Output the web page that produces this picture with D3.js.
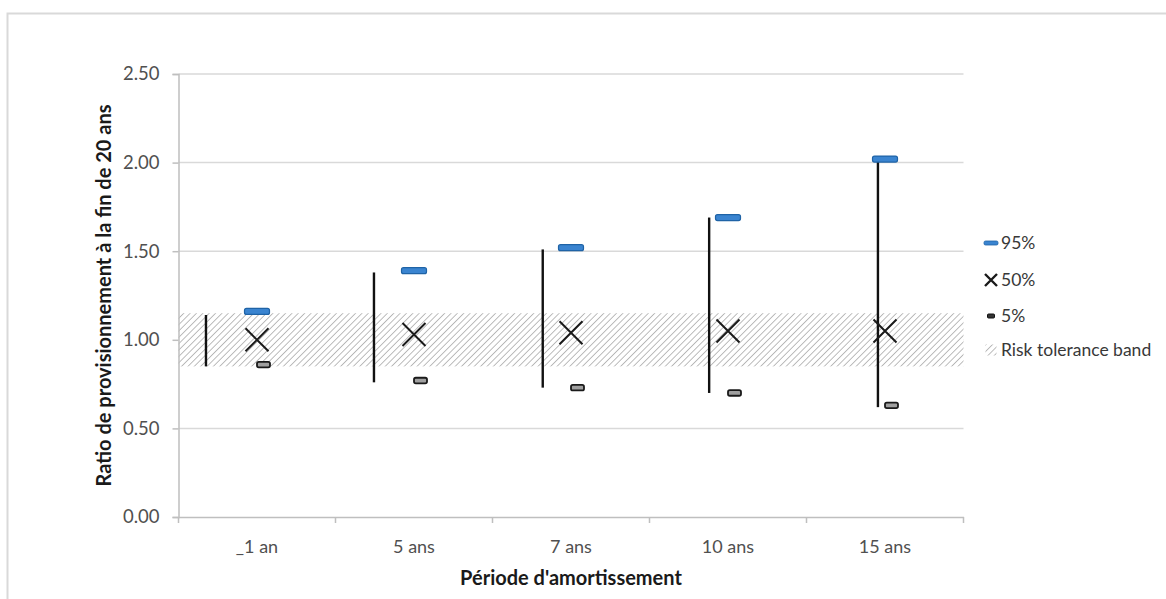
<!DOCTYPE html>
<html>
<head>
<meta charset="utf-8">
<script src="https://cdn.jsdelivr.net/npm/d3@7"></script>
<style>
  html, body { margin: 0; padding: 0; background: #fff; }
  svg { display: block; font-family: Lato, "Liberation Sans", sans-serif; }
</style>
</head>
<body>
<svg id="chart" width="1166" height="599"></svg>
<script>
// Funding ratio after 20 years, by amortisation period
const categories = ["_1 an", "5 ans", "7 ans", "10 ans", "15 ans"];
const p95 = [1.16, 1.39, 1.52, 1.69, 2.02];
const p50 = [1.00, 1.03, 1.04, 1.05, 1.05];
const p05 = [0.86, 0.77, 0.73, 0.70, 0.63];
const rangeHigh = [1.14, 1.38, 1.51, 1.69, 2.01];
const rangeLow = [0.85, 0.76, 0.73, 0.70, 0.62];
const toleranceBand = [0.85, 1.15];
const yTicks = [0, 0.5, 1.0, 1.5, 2.0, 2.5];
const legendLabels = ["95%", "50%", "5%", "Risk tolerance band"];
const yTitle = "Ratio de provisionnement à la fin de 20 ans";
const xTitle = "Période d'amortissement";

// layout
const plot = { left: 178.5, right: 963.5, top: 74, bottom: 517 };
// horizontal shift of each high-low line, as a share of the category step
const rangeShift = [-0.325, -0.255, -0.18, -0.12, -0.045];

const svg = d3.select("#chart");

// outer chart frame
svg.append("path")
  .attr("d", `M7.5,599 V13.5 H1166`)
  .attr("fill", "none").attr("stroke", "#d9d9d9").attr("stroke-width", 2);

const x = d3.scaleBand().domain(categories).range([plot.left, plot.right]).padding(0);
const y = d3.scaleLinear().domain([0, 2.5]).range([plot.bottom, plot.top]);
const cx = c => x(c) + x.bandwidth() / 2;

// hatch pattern for the tolerance band
const defs = svg.append("defs");
const pat = defs.append("pattern")
  .attr("id", "hatch").attr("patternUnits", "userSpaceOnUse")
  .attr("width", 4.5).attr("height", 4.5)
  .attr("patternTransform", "rotate(45)");
pat.append("rect").attr("width", 4.5).attr("height", 4.5).attr("fill", "#ffffff");
pat.append("line").attr("x1", 0).attr("y1", 0).attr("x2", 0).attr("y2", 4.5)
  .attr("stroke", "#a0a0a0").attr("stroke-width", 1.4);

// gridlines
svg.append("g").selectAll("line").data(yTicks.filter(t => t > 0)).join("line")
  .attr("x1", plot.left).attr("x2", plot.right)
  .attr("y1", d => y(d)).attr("y2", d => y(d))
  .attr("stroke", "#d9d9d9").attr("stroke-width", 1.5);

// tolerance band
svg.append("rect")
  .attr("x", plot.left).attr("width", plot.right - plot.left)
  .attr("y", y(toleranceBand[1])).attr("height", y(toleranceBand[0]) - y(toleranceBand[1]))
  .attr("fill", "url(#hatch)");

// y axis
const yAxis = svg.append("g").attr("transform", `translate(${plot.left},0)`)
  .call(d3.axisLeft(y).tickValues(yTicks).tickFormat(d3.format(".2f")).tickSize(6).tickPadding(13));
yAxis.select(".domain").attr("stroke", "#bfbfbf").attr("stroke-width", 1.5);
yAxis.selectAll(".tick line").attr("stroke", "#bfbfbf").attr("stroke-width", 1.5);
yAxis.selectAll(".tick text").attr("fill", "#505050").style("font-size", "18.5px")
  .style("font-family", "Lato, sans-serif");

// x axis
const xAxis = svg.append("g").attr("transform", `translate(0,${plot.bottom})`)
  .call(d3.axisBottom(x).tickSize(0).tickPadding(23));
xAxis.select(".domain").attr("stroke", "#bfbfbf").attr("stroke-width", 1.5);
xAxis.selectAll(".tick text").attr("fill", "#505050").style("font-size", "18px")
  .style("font-family", "Lato, sans-serif");
// category boundary ticks
const bounds = categories.map(c => x(c)).concat([plot.right]);
svg.append("g").selectAll("line").data(bounds).join("line")
  .attr("x1", d => d).attr("x2", d => d)
  .attr("y1", plot.bottom).attr("y2", plot.bottom + 6)
  .attr("stroke", "#bfbfbf").attr("stroke-width", 1.5);

// high-low lines
svg.append("g").selectAll("line").data(categories).join("line")
  .attr("x1", (c, i) => cx(c) + rangeShift[i] * x.step())
  .attr("x2", (c, i) => cx(c) + rangeShift[i] * x.step())
  .attr("y1", (c, i) => y(rangeHigh[i]))
  .attr("y2", (c, i) => y(rangeLow[i]))
  .attr("stroke", "#111").attr("stroke-width", 2.4);

// 95% markers
function dash95(g, px, py) {
  g.append("rect").attr("x", px - 12.5).attr("y", py - 3).attr("width", 25).attr("height", 6)
    .attr("rx", 2).attr("fill", "#3a84d0").attr("stroke", "#1f63a6").attr("stroke-width", 1.2);
}
// 5% markers
function dash05(g, px, py) {
  g.append("rect").attr("x", px - 6).attr("y", py - 2.8).attr("width", 13).attr("height", 5.6)
    .attr("rx", 1.8).attr("fill", "#a0a0a0").attr("stroke", "#1a1a1a").attr("stroke-width", 1.8);
}
// 50% markers
function cross50(g, px, py, s) {
  g.append("path").attr("d", `M${px - s},${py - s}L${px + s},${py + s}M${px - s},${py + s}L${px + s},${py - s}`)
    .attr("stroke", "#1a1a1a").attr("stroke-width", 2).attr("fill", "none");
}

const marks = svg.append("g");
categories.forEach((c, i) => {
  dash95(marks, cx(c), y(p95[i]));
  cross50(marks, cx(c), y(p50[i]), 11.5);
  dash05(marks, cx(c) + 6, y(p05[i]));
});

// legend
const leg = svg.append("g");
const legY = [243, 280, 316, 350];
const lx = 991;
legendLabels.forEach((t, i) => {
  const row = leg.append("g");
  if (i === 0) {
    row.append("rect").attr("x", lx - 7).attr("y", legY[i] - 2).attr("width", 14).attr("height", 4)
      .attr("rx", 1.5).attr("fill", "#3a84d0").attr("stroke", "#1f63a6").attr("stroke-width", 0.8);
  } else if (i === 1) {
    cross50(row, lx, legY[i], 6);
    row.select("path").attr("stroke-width", 2.4);
  } else if (i === 2) {
    row.append("rect").attr("x", lx - 3.5).attr("y", legY[i] - 2).attr("width", 7).attr("height", 4)
      .attr("rx", 1).attr("fill", "#333").attr("stroke", "#111").attr("stroke-width", 1);
  } else {
    row.append("rect").attr("x", lx - 5.5).attr("y", legY[i] - 5.5).attr("width", 11).attr("height", 11)
      .attr("fill", "url(#hatch)");
  }
  row.append("text").attr("x", 1001).attr("y", legY[i]).attr("dy", "0.35em")
    .attr("fill", "#383838").style("font-size", "17.5px").text(t);
});

// axis titles
svg.append("text")
  .attr("transform", `translate(104,${(plot.top + plot.bottom) / 2}) rotate(-90)`)
  .attr("text-anchor", "middle").attr("dy", "0.35em")
  .attr("fill", "#1a1a1a").style("font-size", "20px").style("font-weight", "bold")
  .text(yTitle);
svg.append("text")
  .attr("x", (plot.left + plot.right) / 2).attr("y", 578).attr("dy", "0.35em")
  .attr("text-anchor", "middle")
  .attr("fill", "#1a1a1a").style("font-size", "20px").style("font-weight", "bold")
  .text(xTitle);
</script>
</body>
</html>
